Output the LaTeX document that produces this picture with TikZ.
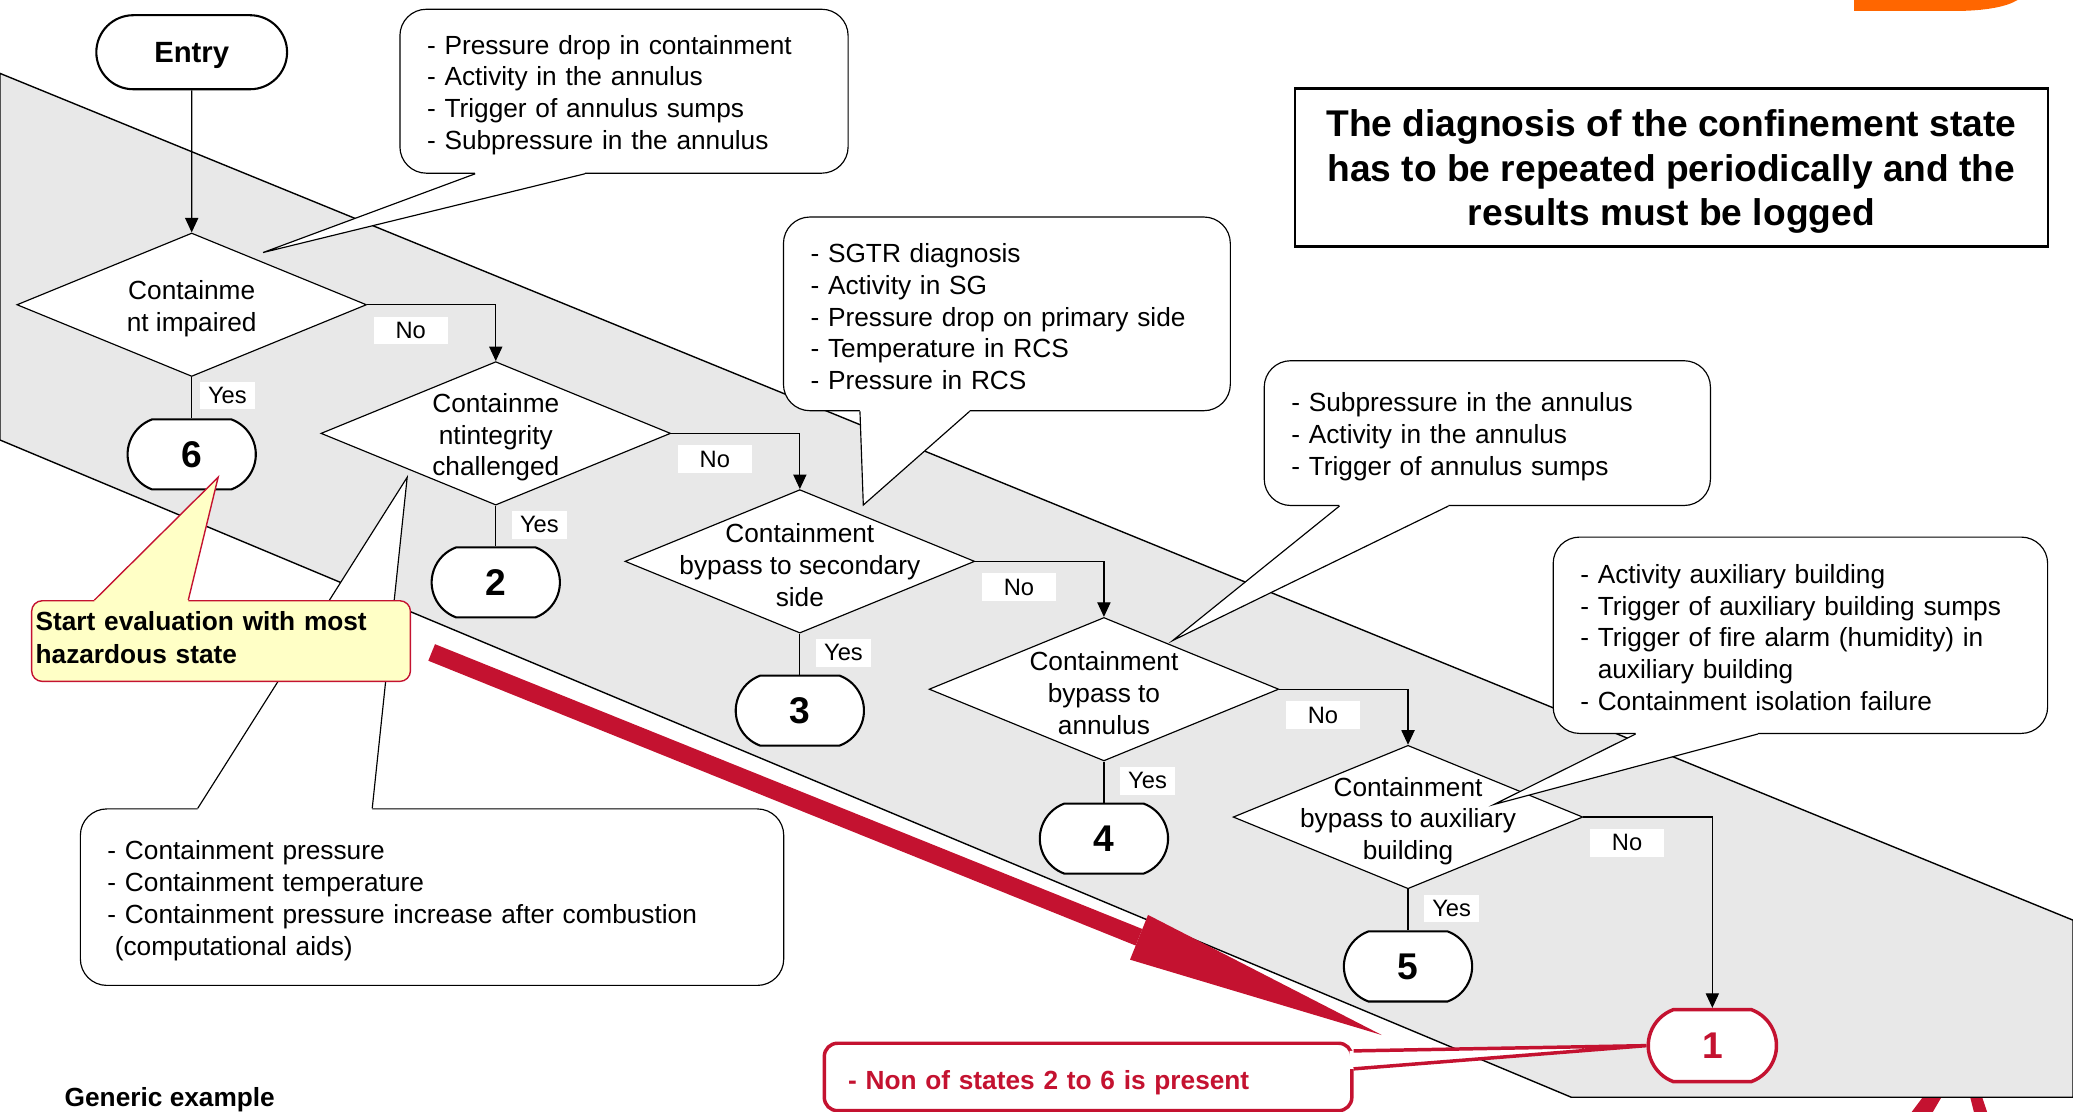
\documentclass[tikz,border=0pt]{standalone}
\usepackage{fontspec}
\setmainfont{Liberation Sans}
\usetikzlibrary{shapes.geometric,shapes.misc,arrows.meta,calc}

\definecolor{bandgray}{HTML}{E8E8E8}
\definecolor{alertred}{HTML}{C41230}
\definecolor{notepale}{HTML}{FFFFC6}
\definecolor{logoorange}{HTML}{FF6600}

\begin{document}
\begin{tikzpicture}[x = 0.2mm, y = -0.2mm,
    every node/.style = {font=\fontsize{11.3}{13.66}\selectfont},
    decision/.style = {diamond, draw, fill=white, line width=0.5pt,
        minimum width=52.9mm, minimum height=21.7mm, inner sep=0pt},
    dtext/.style = {align=center, inner sep=0pt, yshift=-0.6mm},
    state/.style = {rounded rectangle, rounded rectangle arc length=140,
        draw, fill=white, line width=0.9pt, minimum width=19.4mm,
        minimum height=10.6mm, inner sep=0pt,
        font=\bfseries\fontsize{16}{19}\selectfont},
    tag/.style = {fill=white, inner sep=0pt, minimum height=4.2mm,
        font=\fontsize{10.2}{12}\selectfont},
    yestag/.style = {tag, minimum width=8.4mm},
    notag/.style = {tag, minimum width=11.2mm},
    link/.style = {line width=0.5pt, -{Triangle[length=2.2mm, width=2mm]}},
    callout/.style = {draw, fill=white, line width=0.5pt, rounded corners=4mm,
        align=left, inner xsep=4.1mm, inner ysep=0pt}
]

    \useasboundingbox (0,0) rectangle (1568,841);

    \fill[alertred] (1446,841) -- (1455,829) -- (1469,829) -- (1462,841) -- cycle;
    \fill[alertred] (1490,829) -- (1499,829) -- (1503,841) -- (1493,841) -- cycle;
    \draw[fill=bandgray, line width=0.6pt] (0,55.5) -- (1568,696) -- (1568,829.9)
        -- (1188.4,829.9) -- (0,332.8) -- cycle;
    \fill[logoorange] (1402.5,0) -- (1402.5,8.3) -- (1478,8.3)
        .. controls (1502,8.3) and (1518,5) .. (1526,0) -- cycle;

    \node[draw, rounded rectangle, fill=white, line width=0.9pt, minimum width=31.2mm,
        minimum height=11.2mm, text depth=0pt, font=\bfseries\fontsize{12.6}{15}\selectfont]
        (entry) at (145,39.5) {Entry};

    \node[decision] (d1) at (145,230.5) {};
    \node[decision] (d2) at (375,327.8) {};
    \node[decision] (d3) at (605,424.6) {};
    \node[decision] (d4) at (835,521.3) {};
    \node[decision] (d5) at (1065,618) {};

    \node[dtext] (d1text) at (d1) {Containme\\nt impaired};
    \node[dtext] (d2text) at (d2) {Containme\\ntintegrity\\challenged};
    \node[dtext] (d3text) at (d3) {Containment\\bypass to secondary\\side};
    \node[dtext] (d4text) at (d4) {Containment\\bypass to\\annulus};
    \node[dtext] (d5text) at (d5) {Containment\\bypass to auxiliary\\building};

    \node[state] (s6) at (145,343.7) {6};
    \node[state] (s2) at (375,440.5) {2};
    \node[state] (s3) at (605,537.5) {3};
    \node[state] (s4) at (835,634.3) {4};
    \node[state] (s5) at (1065,731) {5};
    \node[state, draw=alertred, text=alertred, line width=1.5pt, minimum height=10.9mm]
        (s1) at (1295.2,790.9) {1};

    \draw[link] (entry) -- (d1);
    \draw[link] (d1.east) -| (d2.north);
    \draw[link] (d2.east) -| (d3.north);
    \draw[link] (d3.east) -| (d4.north);
    \draw[link] (d4.east) -| (d5.north);
    \draw[link] (d5.east) -| (s1.north);
    \draw[line width=0.5pt] (d1.south) -- (s6.north);
    \draw[line width=0.5pt] (d2.south) -- (s2.north);
    \draw[line width=0.5pt] (d3.south) -- (s3.north);
    \draw[line width=0.5pt] (d4.south) -- (s4.north);
    \draw[line width=0.5pt] (d5.south) -- (s5.north);

    \node[yestag] (y1) at ($(d1.south)+(27,14)$) {Yes};
    \node[yestag] (y2) at ($(d2.south)+(33,14.5)$) {Yes};
    \node[yestag] (y3) at ($(d3.south)+(33,14.5)$) {Yes};
    \node[yestag] (y4) at ($(d4.south)+(33,14.5)$) {Yes};
    \node[yestag] (y5) at ($(d5.south)+(33,14.5)$) {Yes};
    \node[notag] (n1) at ($(d1.east)+(33,19.5)$) {No};
    \node[notag] (n2) at ($(d2.east)+(33,19.5)$) {No};
    \node[notag] (n3) at ($(d3.east)+(33,19.5)$) {No};
    \node[notag] (n4) at ($(d4.east)+(33,19.5)$) {No};
    \node[notag] (n5) at ($(d5.east)+(33,19.5)$) {No};

    \node[callout, minimum width=67.8mm, minimum height=24.8mm, text width=59.6mm]
        (c1) at (472,69) {\rule{0pt}{1em}- Pressure drop in containment\\- Activity in the annulus\\- Trigger of annulus sumps\\- Subpressure in the annulus};
    \coordinate (c1a) at ($(c1.south west)+(57.4,0)$);
    \coordinate (c1b) at ($(c1.south west)+(140.4,0)$);
    \coordinate (c1tip) at (199,191);
    \fill[white] ($(c1a)+(0,-2)$) -- (c1a) -- (c1tip) -- (c1b) -- ($(c1b)+(0,-2)$) -- cycle;
    \draw[line width=0.5pt] (c1a) -- (c1tip) -- (c1b);

    \node[callout, minimum width=67.6mm, minimum height=29.3mm, text width=59.4mm]
        (c2) at (761.6,237.4) {\rule{0pt}{0.95em}- SGTR diagnosis\\- Activity in SG\\- Pressure drop on primary side\\- Temperature in RCS\\- Pressure in RCS};
    \coordinate (c2a) at ($(c2.south west)+(58.3,0)$);
    \coordinate (c2b) at ($(c2.south west)+(141.3,0)$);
    \coordinate (c2tip) at (653,382);
    \fill[white] ($(c2a)+(0,-2)$) -- (c2a) -- (c2tip) -- (c2b) -- ($(c2b)+(0,-2)$) -- cycle;
    \draw[line width=0.5pt] (c2a) -- (c2tip) -- (c2b);

    \node[callout, minimum width=67.5mm, minimum height=21.9mm, text width=59.3mm]
        (c3) at (1125,327.6) {\rule{0pt}{1em}- Subpressure in the annulus\\- Activity in the annulus\\- Trigger of annulus sumps};
    \coordinate (c3a) at ($(c3.south west)+(57.3,0)$);
    \coordinate (c3b) at ($(c3.south west)+(139.7,0)$);
    \coordinate (c3tip) at (887,484.5);
    \fill[white] ($(c3a)+(0,-2)$) -- (c3a) -- (c3tip) -- (c3b) -- ($(c3b)+(0,-2)$) -- cycle;
    \draw[line width=0.5pt] (c3a) -- (c3tip) -- (c3b);

    \node[callout, minimum width=74.8mm, minimum height=29.7mm, text width=66.6mm]
        (c4) at (1361.8,480.5) {\rule{0pt}{0.9em}- Activity auxiliary building\\- Trigger of auxiliary building sumps\\- Trigger of fire alarm (humidity) in\\\phantom{- }auxiliary building\\- Containment isolation failure};
    \coordinate (c4a) at ($(c4.south west)+(62.8,0)$);
    \coordinate (c4b) at ($(c4.south west)+(155.3,0)$);
    \coordinate (c4tip) at (1130,608.5);
    \fill[white] ($(c4a)+(0,-2)$) -- (c4a) -- (c4tip) -- (c4b) -- ($(c4b)+(0,-2)$) -- cycle;
    \draw[line width=0.5pt] (c4a) -- (c4tip) -- (c4b);

    \node[callout, minimum width=106.4mm, minimum height=26.7mm, text width=98.2mm]
        (c5) at (326.8,678.6) {\rule{0pt}{1em}- Containment pressure\\- Containment temperature\\- Containment pressure increase after combustion\\\hspace*{0.28em}(computational aids)};
    \coordinate (c5a) at ($(c5.north west)+(89.2,0)$);
    \coordinate (c5b) at ($(c5.north west)+(221.2,0)$);
    \coordinate (c5tip) at (308,361);
    \fill[white] ($(c5a)+(0,2)$) -- (c5a) -- (c5tip) -- (c5b) -- ($(c5b)+(0,2)$) -- cycle;
    \draw[line width=0.5pt] (c5a) -- (c5tip) -- (c5b);

    \node[callout, draw=alertred, fill=notepale, line width=0.6pt, rounded corners=1.6mm,
        minimum width=57.3mm, minimum height=12.2mm, text width=56.1mm, inner xsep=0.6mm,
        font=\bfseries\fontsize{11.3}{13.9}\selectfont]
        (start) at (167.2,484.9) {Start evaluation with most\\hazardous state\rule[-0.5ex]{0pt}{0pt}};
    \coordinate (starta) at ($(start.north west)+(48,0)$);
    \coordinate (startb) at ($(start.north west)+(119,0)$);
    \coordinate (starttip) at (165,361);
    \fill[notepale] ($(starta)+(0,2)$) -- (starta) -- (starttip) -- (startb) -- ($(startb)+(0,2)$) -- cycle;
    \draw[alertred, line width=0.6pt] (starta) -- (starttip) -- (startb);

    \node[draw, line width=0.9pt, minimum width=113.9mm, minimum height=23.9mm, align=center,
        font=\bfseries\fontsize{16}{19.2}\selectfont]
        (title) at (1264.2,126.7) {\rule{0pt}{0.94em}The diagnosis of the confinement state\\has to be repeated periodically and the\\results must be logged};

    \coordinate (arrowstart) at (326.5,493.5);
    \coordinate (arrowtip) at (1045.2,782.9);
    \draw[alertred, line width=2.7mm,
        -{Triangle[length=39.6mm, width=7.3mm, line width=0pt]}] (arrowstart) -- (arrowtip);

    \node[callout, draw=alertred, text=alertred, line width=1.5pt, rounded corners=2mm,
        minimum width=79.8mm, minimum height=10.2mm, text width=72.6mm, inner xsep=3.6mm,
        font=\bfseries\fontsize{11.3}{13.66}\selectfont]
        (none) at (823,814.6) {\rule{0pt}{1.19em}- Non of states 2 to 6 is present};
    \coordinate (nonea) at ($(none.north east)+(0,7.1)$);
    \coordinate (noneb) at ($(none.north east)+(0,20.7)$);
    \fill[white] ($(nonea)+(-3,0)$) -- (nonea) -- (s1.west) -- (noneb) -- ($(noneb)+(-3,0)$) -- cycle;
    \draw[alertred, line width=1.5pt] (nonea) -- (s1.west) -- (noneb);

    \node[anchor=west, inner sep=0pt, font=\bfseries\fontsize{11.3}{13.66}\selectfont]
        (generic) at (48.6,832) {Generic example};

\end{tikzpicture}
\end{document}
